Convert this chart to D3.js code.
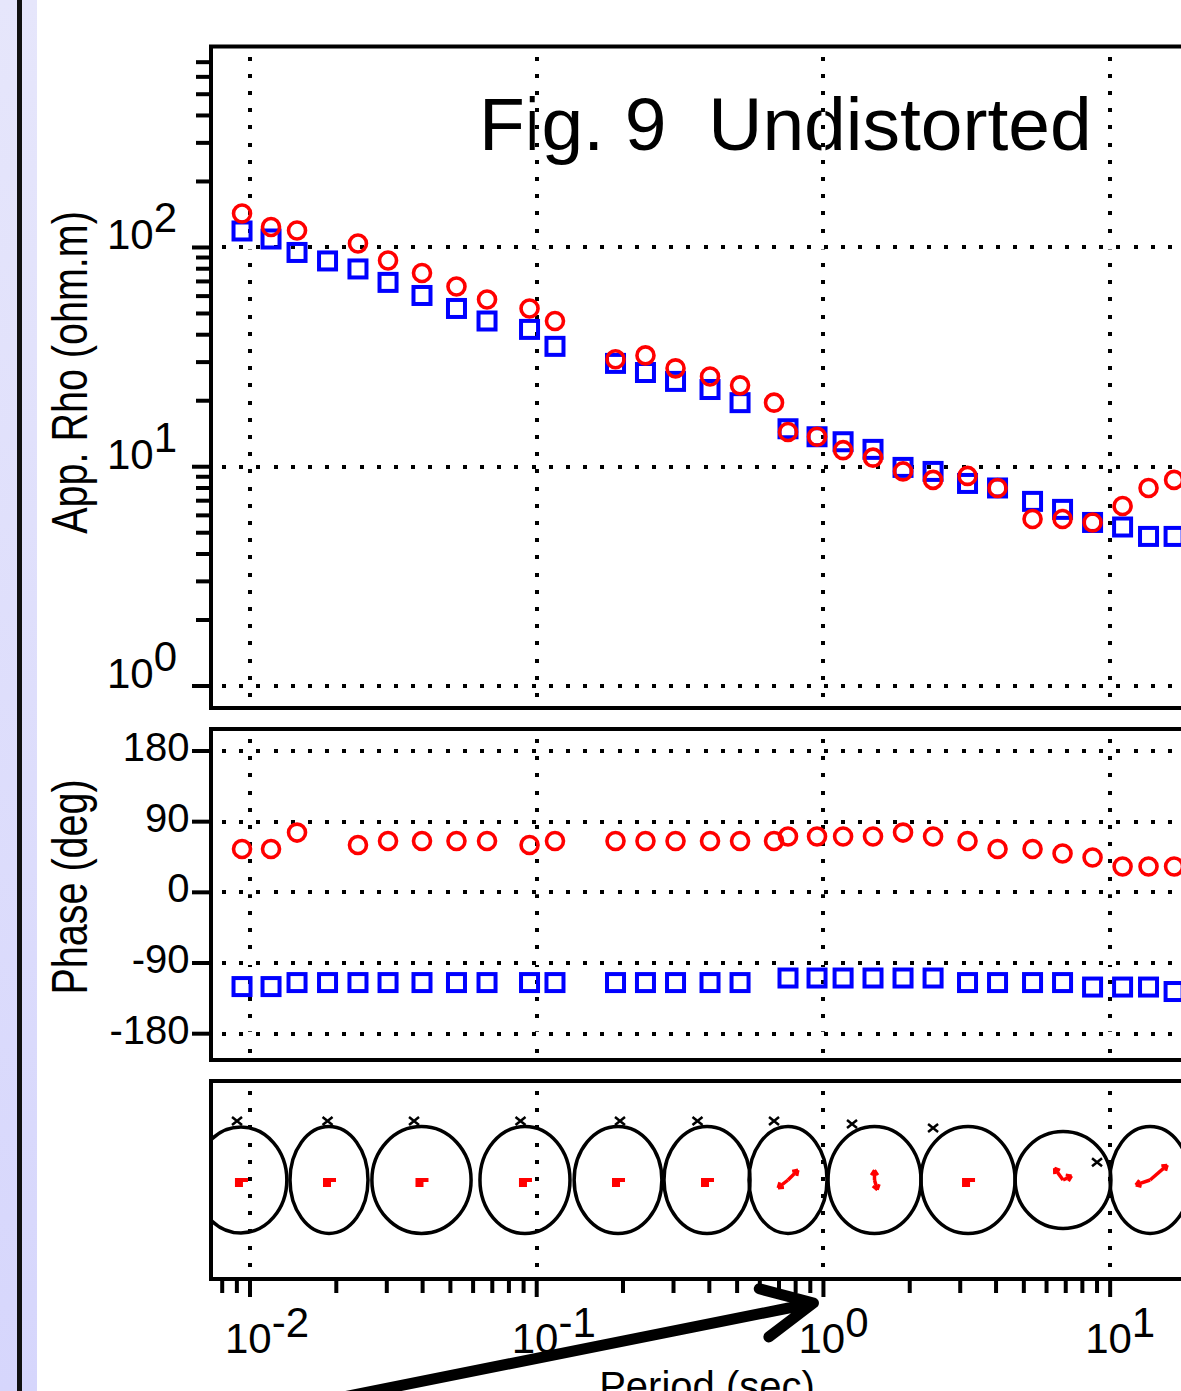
<!DOCTYPE html>
<html>
<head>
<meta charset="utf-8">
<script src="https://cdn.jsdelivr.net/npm/d3@7"></script>
<style>
  html, body { margin: 0; padding: 0; background: #fff; overflow: hidden; }
  svg { display: block; }
</style>
</head>
<body>
<svg id="chart" width="1181" height="1391"></svg>
<script>
// ---- MT sounding data (period in seconds) ----
const periods = [0.00938, 0.01184, 0.01459, 0.01864, 0.0238, 0.0303, 0.0398, 0.0525, 0.0671, 0.0944,
                 0.1158, 0.1883, 0.2395, 0.3049, 0.4022, 0.5119, 0.6725, 0.7524, 0.9499, 1.171,
                 1.489, 1.895, 2.412, 3.181, 4.048, 5.362, 6.823, 8.683, 11.05, 13.61, 16.71];

// apparent resistivity, ohm.m (null = rejected estimate)
const rhoXY = [142.9, 124.0, 119.5, null, 104.3, 87.2, 76.5, 66.4, 57.9, 52.7,
               46.2, 30.9, 32.2, 28.1, 25.8, 23.5, 19.6, 14.4, 13.7, 11.9,
               11.0, 9.52, 8.71, 9.08, 8.00, 5.78, 5.78, 5.57, 6.62, 8.00, 8.71];
const rhoYX = [118.9, 109.3, 94.9, 86.8, 79.8, 69.3, 60.4, 52.7, 46.2, 42.3,
               35.4, 29.6, 26.9, 24.5, 22.5, 19.6, null, 14.9, 13.7, 13.0,
               12.0, 9.93, 9.52, 8.39, 8.00, 6.95, 6.39, 5.57, 5.31, 4.81, 4.81];

// impedance phase, degrees
const phaseXY = [55.1, 55.1, 76.1, null, 60.2, 65.3, 65.3, 65.3, 65.3, 60.2,
                 65.3, 65.3, 65.3, 65.3, 65.3, 65.3, 65.3, 71.1, 71.1, 71.1,
                 71.1, 76.1, 71.1, 65.3, 55.1, 55.1, 49.4, 44.3, 32.9, 32.9, 32.9];
const phaseYX = [-120.0, -120.0, -114.9, -114.9, -114.9, -114.9, -114.9, -114.9, -114.9, -114.9,
                 -114.9, -114.9, -114.9, -114.9, -114.9, -114.9, null, -109.1, -109.1, -109.1,
                 -109.1, -109.1, -109.1, -114.9, -114.9, -114.9, -114.9, -120.6, -120.6, -120.6, -126.3];

// phase-tensor style ellipses: centre period, half width (decades), half height (panel units)
const ellipsePeriods = [0.00930, 0.01886, 0.03964, 0.0910, 0.1921, 0.3926, 0.7524, 1.507, 3.194, 6.850, 13.78];
const ellipseHalfWidth = [0.160, 0.136, 0.173, 0.157, 0.153, 0.150, 0.136, 0.162, 0.164, 0.167, 0.140];
const ellipseHalfHeight = [0.535, 0.540, 0.540, 0.540, 0.540, 0.540, 0.540, 0.540, 0.540, 0.490, 0.540];
// induction vectors (x in decades, y in panel units)
const tipperRe = [[0, 0], [0, 0], [0, 0], [0, 0], [0, 0], [0, 0],
                  [0.035, 0.10], [0.0, 0.10], [0, 0], [-0.03, 0.12], [0.06, 0.15]];
const tipperIm = [[0, 0], [0, 0], [0, 0], [0, 0], [0, 0], [0, 0],
                  [-0.035, -0.08], [0.01, -0.10], [0, 0], [0.03, 0.04], [-0.05, -0.05]];
// strike markers
const strikePeriods = [0.00901, 0.01864, 0.03733, 0.0878, 0.1952, 0.3637, 0.6725, 1.258, 2.412, 9.00];
const strikeLevels = [0.596, 0.596, 0.596, 0.596, 0.596, 0.596, 0.596, 0.566, 0.525, 0.18];

// axis ticks and labels
const rhoTicksMajor = [1, 10, 100];
const rhoTickExps = ["0", "1", "2"];
const phaseTicks = [180, 90, 0, -90, -180];
const phaseTickLabels = ["180", "90", "0", "-90", "-180"];
const periodTicksMajor = [0.01, 0.1, 1, 10];
const periodTickExps = ["-2", "-1", "0", "1"];

// ---- layout ----
const W = 1181, H = 1391;
const FONT = "'Liberation Sans', Arial, Helvetica, sans-serif";
const L = 211, R = 1230;
const rhoPanel = { top: 46.5, bottom: 708 };
const phPanel = { top: 729, bottom: 1060 };
const elPanel = { top: 1081, bottom: 1279 };

const x = d3.scaleLog().domain([Math.pow(10, -2.136), Math.pow(10, 1.418)]).range([L, R]);
const yRho = d3.scaleLog().domain([Math.pow(10, -0.1004), Math.pow(10, 2.9166)]).range([rhoPanel.bottom, rhoPanel.top]);
const yPh = d3.scaleLinear().domain([-213.5, 208]).range([phPanel.bottom, phPanel.top]);
const yEl = d3.scaleLinear().domain([-1, 1]).range([elPanel.bottom, elPanel.top]);

const svg = d3.select("#chart").attr("font-family", FONT);

// side band on the left
const defs = svg.append("defs");
const grad = defs.append("linearGradient").attr("id", "sideBand")
  .attr("x1", 0).attr("y1", 0).attr("x2", 0).attr("y2", 1);
grad.append("stop").attr("offset", "0%").attr("stop-color", "#e6e6fb");
grad.append("stop").attr("offset", "100%").attr("stop-color", "#d6d6fc");
svg.append("rect").attr("x", 0).attr("y", 0).attr("width", 37).attr("height", H).attr("fill", "url(#sideBand)");
svg.append("rect").attr("x", 17).attr("y", 0).attr("width", 5).attr("height", H).attr("fill", "#111");

defs.append("clipPath").attr("id", "elClip").append("rect")
  .attr("x", L + 2).attr("y", elPanel.top + 2)
  .attr("width", R - L - 4).attr("height", elPanel.bottom - elPanel.top - 4);

// title (grid is drawn over it)
svg.append("text").attr("x", 479).attr("y", 150).attr("font-size", 75).attr("fill", "#000")
  .text("Fig. 9\u00a0\u00a0Undistorted");

// dotted grid lines with opaque gaps
const gridG = svg.append("g");
function dotted(x1, y1, x2, y2) {
  gridG.append("line").attr("x1", x1).attr("y1", y1).attr("x2", x2).attr("y2", y2)
    .attr("stroke", "#fff").attr("stroke-width", 4);
  gridG.append("line").attr("x1", x1).attr("y1", y1).attr("x2", x2).attr("y2", y2)
    .attr("stroke", "#000").attr("stroke-width", 4).attr("stroke-dasharray", "4 13.2")
    .attr("shape-rendering", "crispEdges");
}
[rhoPanel, phPanel, elPanel].forEach(p => {
  periodTicksMajor.forEach(v => dotted(x(v), p.top + 10, x(v), p.bottom - 2));
});
rhoTicksMajor.forEach(v => dotted(L + 11, yRho(v), R, yRho(v)));
phaseTicks.forEach(v => dotted(L + 11, yPh(v), R, yPh(v)));

// markers
function squares(values, yScale) {
  svg.append("g").selectAll("rect")
    .data(periods.map((p, i) => [p, values[i]]).filter(d => d[1] !== null))
    .join("rect")
    .attr("x", d => x(d[0]) - 8.5).attr("y", d => yScale(d[1]) - 8.5)
    .attr("width", 17).attr("height", 17)
    .attr("fill", "none").attr("stroke", "#0000ff").attr("stroke-width", 4);
}
function circles(values, yScale) {
  svg.append("g").selectAll("circle")
    .data(periods.map((p, i) => [p, values[i]]).filter(d => d[1] !== null))
    .join("circle")
    .attr("cx", d => x(d[0])).attr("cy", d => yScale(d[1])).attr("r", 8.5)
    .attr("fill", "none").attr("stroke", "#ff0000").attr("stroke-width", 3.6);
}
squares(rhoYX, yRho);
circles(rhoXY, yRho);
squares(phaseYX, yPh);
circles(phaseXY, yPh);

// ellipse panel
const elG = svg.append("g").attr("clip-path", "url(#elClip)");
ellipsePeriods.forEach((p, i) => {
  const cx = x(p), cy = yEl(0);
  const rx = x(p * Math.pow(10, ellipseHalfWidth[i])) - cx;
  const ry = cy - yEl(ellipseHalfHeight[i]);
  elG.append("ellipse").attr("cx", cx).attr("cy", cy).attr("rx", rx).attr("ry", ry)
    .attr("fill", "none").attr("stroke", "#000").attr("stroke-width", 3.5);

  const vecs = [tipperRe[i], tipperIm[i]];
  const allZero = vecs.every(v => v[0] === 0 && v[1] === 0);
  if (allZero) {
    elG.append("path")
      .attr("d", `M${cx - 6},${cy - 2}h13v4h-5v5h-8z`)
      .attr("fill", "#ff0000");
  } else {
    vecs.forEach(v => {
      const tx = x(p * Math.pow(10, v[0]));
      const ty = yEl(v[1]);
      elG.append("line").attr("x1", cx).attr("y1", cy).attr("x2", tx).attr("y2", ty)
        .attr("stroke", "#ff0000").attr("stroke-width", 3.5);
      const a = Math.atan2(ty - cy, tx - cx);
      const hl = 6;
      elG.append("path")
        .attr("d", `M${tx},${ty}L${tx - hl * Math.cos(a - 0.6)},${ty - hl * Math.sin(a - 0.6)}` +
                   `M${tx},${ty}L${tx - hl * Math.cos(a + 0.6)},${ty - hl * Math.sin(a + 0.6)}`)
        .attr("stroke", "#ff0000").attr("stroke-width", 3).attr("fill", "none");
    });
  }
});
strikePeriods.forEach((p, i) => {
  const sx = x(p), sy = yEl(strikeLevels[i]);
  elG.append("path")
    .attr("d", `M${sx - 5},${sy - 4}L${sx + 5},${sy + 4}M${sx - 5},${sy + 4}L${sx + 5},${sy - 4}`)
    .attr("stroke", "#000").attr("stroke-width", 2.5).attr("fill", "none");
});

// frames
[rhoPanel, phPanel, elPanel].forEach(p => {
  svg.append("rect").attr("x", L).attr("y", p.top)
    .attr("width", R - L).attr("height", p.bottom - p.top)
    .attr("fill", "none").attr("stroke", "#000").attr("stroke-width", 4);
});

// resistivity axis
const rhoMinor = yRho.ticks().filter(v => v >= 1 && yRho(v) > rhoPanel.top + 8 && !rhoTicksMajor.includes(v));
const axG = svg.append("g").attr("stroke", "#000").attr("stroke-width", 4);
rhoMinor.forEach(v => axG.append("line").attr("x1", 196).attr("x2", L).attr("y1", yRho(v)).attr("y2", yRho(v)));
rhoTicksMajor.forEach(v => axG.append("line").attr("x1", 192).attr("x2", L).attr("y1", yRho(v)).attr("y2", yRho(v)));
rhoTicksMajor.forEach((v, i) => {
  const t = svg.append("text").attr("x", 177).attr("y", yRho(v) + 2)
    .attr("text-anchor", "end").attr("font-size", 42);
  t.append("tspan").text("10");
  t.append("tspan").attr("dy", -17).text(rhoTickExps[i]);
});

// phase axis
phaseTicks.forEach(v => axG.append("line").attr("x1", 192).attr("x2", L).attr("y1", yPh(v)).attr("y2", yPh(v)));
phaseTicks.forEach((v, i) => {
  svg.append("text").attr("x", 189.5).attr("y", yPh(v) + 10)
    .attr("text-anchor", "end").attr("font-size", 40).text(phaseTickLabels[i]);
});

// period axis
x.ticks().forEach(v => {
  const major = periodTicksMajor.some(m => Math.abs(m - v) / m < 1e-6);
  axG.append("line").attr("x1", x(v)).attr("x2", x(v))
    .attr("y1", elPanel.bottom).attr("y2", elPanel.bottom + (major ? 18 : 14));
});
periodTicksMajor.forEach((v, i) => {
  const t = svg.append("text").attr("x", x(v) - 25).attr("y", 1353).attr("font-size", 42);
  t.append("tspan").text("10");
  t.append("tspan").attr("dy", -16).text(periodTickExps[i]);
});

// axis titles
svg.append("text").attr("transform", "translate(87,372.5) rotate(-90) scale(0.79,1)")
  .attr("text-anchor", "middle").attr("font-size", 50).text("App. Rho (ohm.m)");
svg.append("text").attr("transform", "translate(87,887) rotate(-90) scale(0.79,1)")
  .attr("text-anchor", "middle").attr("font-size", 50).text("Phase (deg)");
svg.append("text").attr("x", 707).attr("y", 1400)
  .attr("text-anchor", "middle").attr("font-size", 40).text("Period (sec)");

// annotation arrow pointing at the 1 s tick
const tip = [x(1) - 10, 1303];
const ang = Math.atan2(-88, 440);
const back = ang + Math.PI;
const tail = [tip[0] + 600 * Math.cos(back), tip[1] + 600 * Math.sin(back)];
const armLen = 56, spread = 26 * Math.PI / 180;
const arm1 = [tip[0] + armLen * Math.cos(back + spread), tip[1] + armLen * Math.sin(back + spread)];
const arm2 = [tip[0] + armLen * Math.cos(back - spread), tip[1] + armLen * Math.sin(back - spread)];
svg.append("path")
  .attr("d", `M${tail[0]},${tail[1]}L${tip[0]},${tip[1]}M${arm1[0]},${arm1[1]}L${tip[0]},${tip[1]}L${arm2[0]},${arm2[1]}`)
  .attr("fill", "none").attr("stroke", "#000").attr("stroke-width", 11)
  .attr("stroke-linecap", "round").attr("stroke-linejoin", "round");
</script>
</body>
</html>
